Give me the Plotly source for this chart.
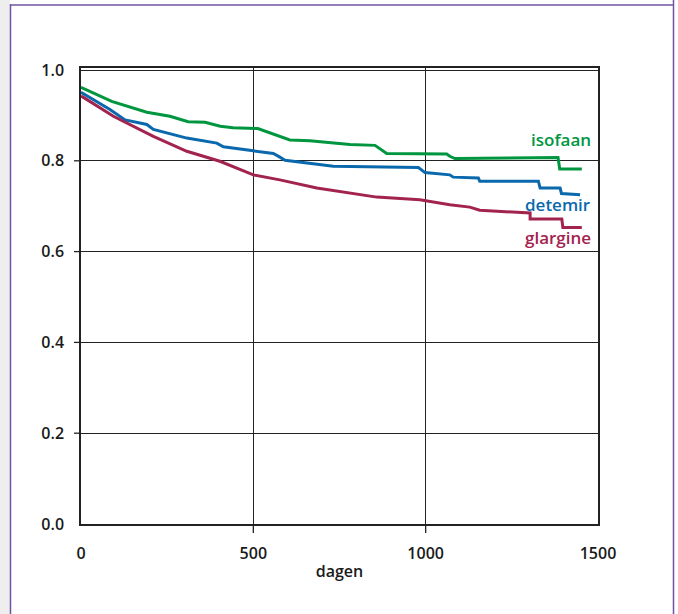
import plotly.graph_objects as go

# ---- data ----
iso_t = [0, 89, 191, 258, 311, 360, 404, 441, 513, 577, 606, 664, 780, 853, 887, 1061, 1070, 1085, 1384, 1389, 1453]
iso_s = [0.962, 0.931, 0.907, 0.898, 0.886, 0.885, 0.876, 0.873, 0.871, 0.854, 0.846, 0.844, 0.836, 0.834,
         0.816, 0.815, 0.810, 0.805, 0.807, 0.782, 0.782]

det_t = [0, 84, 128, 191, 210, 307, 394, 413, 500, 558, 577, 592, 732, 979, 998, 1070, 1080, 1153, 1157,
         1327, 1332, 1390, 1394, 1448]
det_s = [0.951, 0.913, 0.890, 0.880, 0.869, 0.850, 0.839, 0.831, 0.822, 0.816, 0.808, 0.801, 0.788, 0.785,
         0.774, 0.769, 0.764, 0.762, 0.755, 0.755, 0.740, 0.740, 0.728, 0.725]

gla_t = [0, 94, 210, 307, 403, 500, 577, 684, 858, 983, 1070, 1128, 1157, 1303, 1303, 1395, 1398, 1453]
gla_s = [0.943, 0.898, 0.854, 0.821, 0.799, 0.769, 0.758, 0.740, 0.720, 0.714, 0.703, 0.698, 0.691, 0.685,
         0.672, 0.672, 0.653, 0.653]

series_names = ["isofaan", "detemir", "glargine"]
series_colors = ["#00963f", "#0a69ad", "#a3234f"]
label_pos = [(1485, 0.846), (1485, 0.703), (1485, 0.630)]

x_ticks = [0, 500, 1000, 1500]
y_ticks = [0.0, 0.2, 0.4, 0.6, 0.8, 1.0]
y_tick_labels = ["0.0", "0.2", "0.4", "0.6", "0.8", "1.0"]
x_title = "dagen"

FONT = "Open Sans"
TXT = "#1a1a1a"

W, H = 678, 614
L, R, T, B = 81, 80, 68, 90
PW, PH = W - L - R, H - T - B


def px(xp):
    return (xp - L) / PW


def py(yp):
    return (H - B - yp) / PH


fig = go.Figure()
for t, s, name, col in zip([iso_t, det_t, gla_t], [iso_s, det_s, gla_s], series_names, series_colors):
    fig.add_trace(go.Scatter(x=t, y=s, mode="lines", name=name,
                             line=dict(color=col, width=3), showlegend=False))

for name, col, (lx, ly) in zip(series_names, series_colors, label_pos):
    fig.add_annotation(x=lx, y=ly, text=name, showarrow=False, xanchor="right", yanchor="middle",
                       font=dict(family=FONT, size=17, color=col, weight=600))

shapes = []
# tick marks (only at inner gridlines)
for v in x_ticks[1:-1]:
    shapes.append(dict(type="line", xref="x", yref="paper", x0=v, x1=v, y0=0, y1=-9 / PH,
                       line=dict(color="#222", width=1.3)))
for v in y_ticks[1:-1]:
    shapes.append(dict(type="line", xref="paper", yref="y", x0=0, x1=-7 / PW, y0=v, y1=v,
                       line=dict(color="#222", width=1.3)))
# page frame
shapes.append(dict(type="rect", xref="paper", yref="paper", x0=px(0), x1=px(10), y0=py(0), y1=py(H),
                   fillcolor="#eeeeee", line=dict(width=0), layer="below"))
frame_col = "#6f54a3"
shapes.append(dict(type="line", xref="paper", yref="paper", x0=px(10.5), x1=px(10.5), y0=py(4), y1=py(H),
                   line=dict(color=frame_col, width=1.5)))
shapes.append(dict(type="line", xref="paper", yref="paper", x0=px(673.5), x1=px(673.5), y0=py(0), y1=py(H),
                   line=dict(color=frame_col, width=1.5)))
shapes.append(dict(type="line", xref="paper", yref="paper", x0=px(10), x1=px(674), y0=py(5), y1=py(5),
                   line=dict(color=frame_col, width=1.5)))

fig.update_layout(
    width=W, height=H,
    margin=dict(l=L, r=R, t=T, b=B, pad=0),
    paper_bgcolor="white", plot_bgcolor="white",
    shapes=shapes,
    font=dict(family=FONT, size=16, color=TXT, weight=600),
)
fig.update_xaxes(
    range=[0, 1500], tickvals=x_ticks, ticktext=[str(v) for v in x_ticks],
    showgrid=True, gridcolor="#222", gridwidth=1.3,
    showline=True, linecolor="#222", linewidth=1.5, mirror=True,
    ticks="outside", ticklen=9, tickcolor="rgba(0,0,0,0)", ticklabelstandoff=5,
    zeroline=False,
    title=dict(text=x_title, standoff=3, font=dict(family=FONT, size=16, color=TXT, weight=600)),
    tickfont=dict(family=FONT, size=16, color=TXT, weight=600),
)
fig.update_yaxes(
    range=[0, 1.0044], tickvals=y_ticks, ticktext=y_tick_labels,
    showgrid=True, gridcolor="#222", gridwidth=1.3,
    showline=True, linecolor="#222", linewidth=1.5, mirror=True,
    ticks="outside", ticklen=7, tickcolor="rgba(0,0,0,0)", ticklabelstandoff=5,
    zeroline=False,
    tickfont=dict(family=FONT, size=16, color=TXT, weight=600),
)

fig.write_html("out.html", config={"displayModeBar": False},
               post_script="document.body.style.margin='0';document.body.style.overflow='hidden';")
